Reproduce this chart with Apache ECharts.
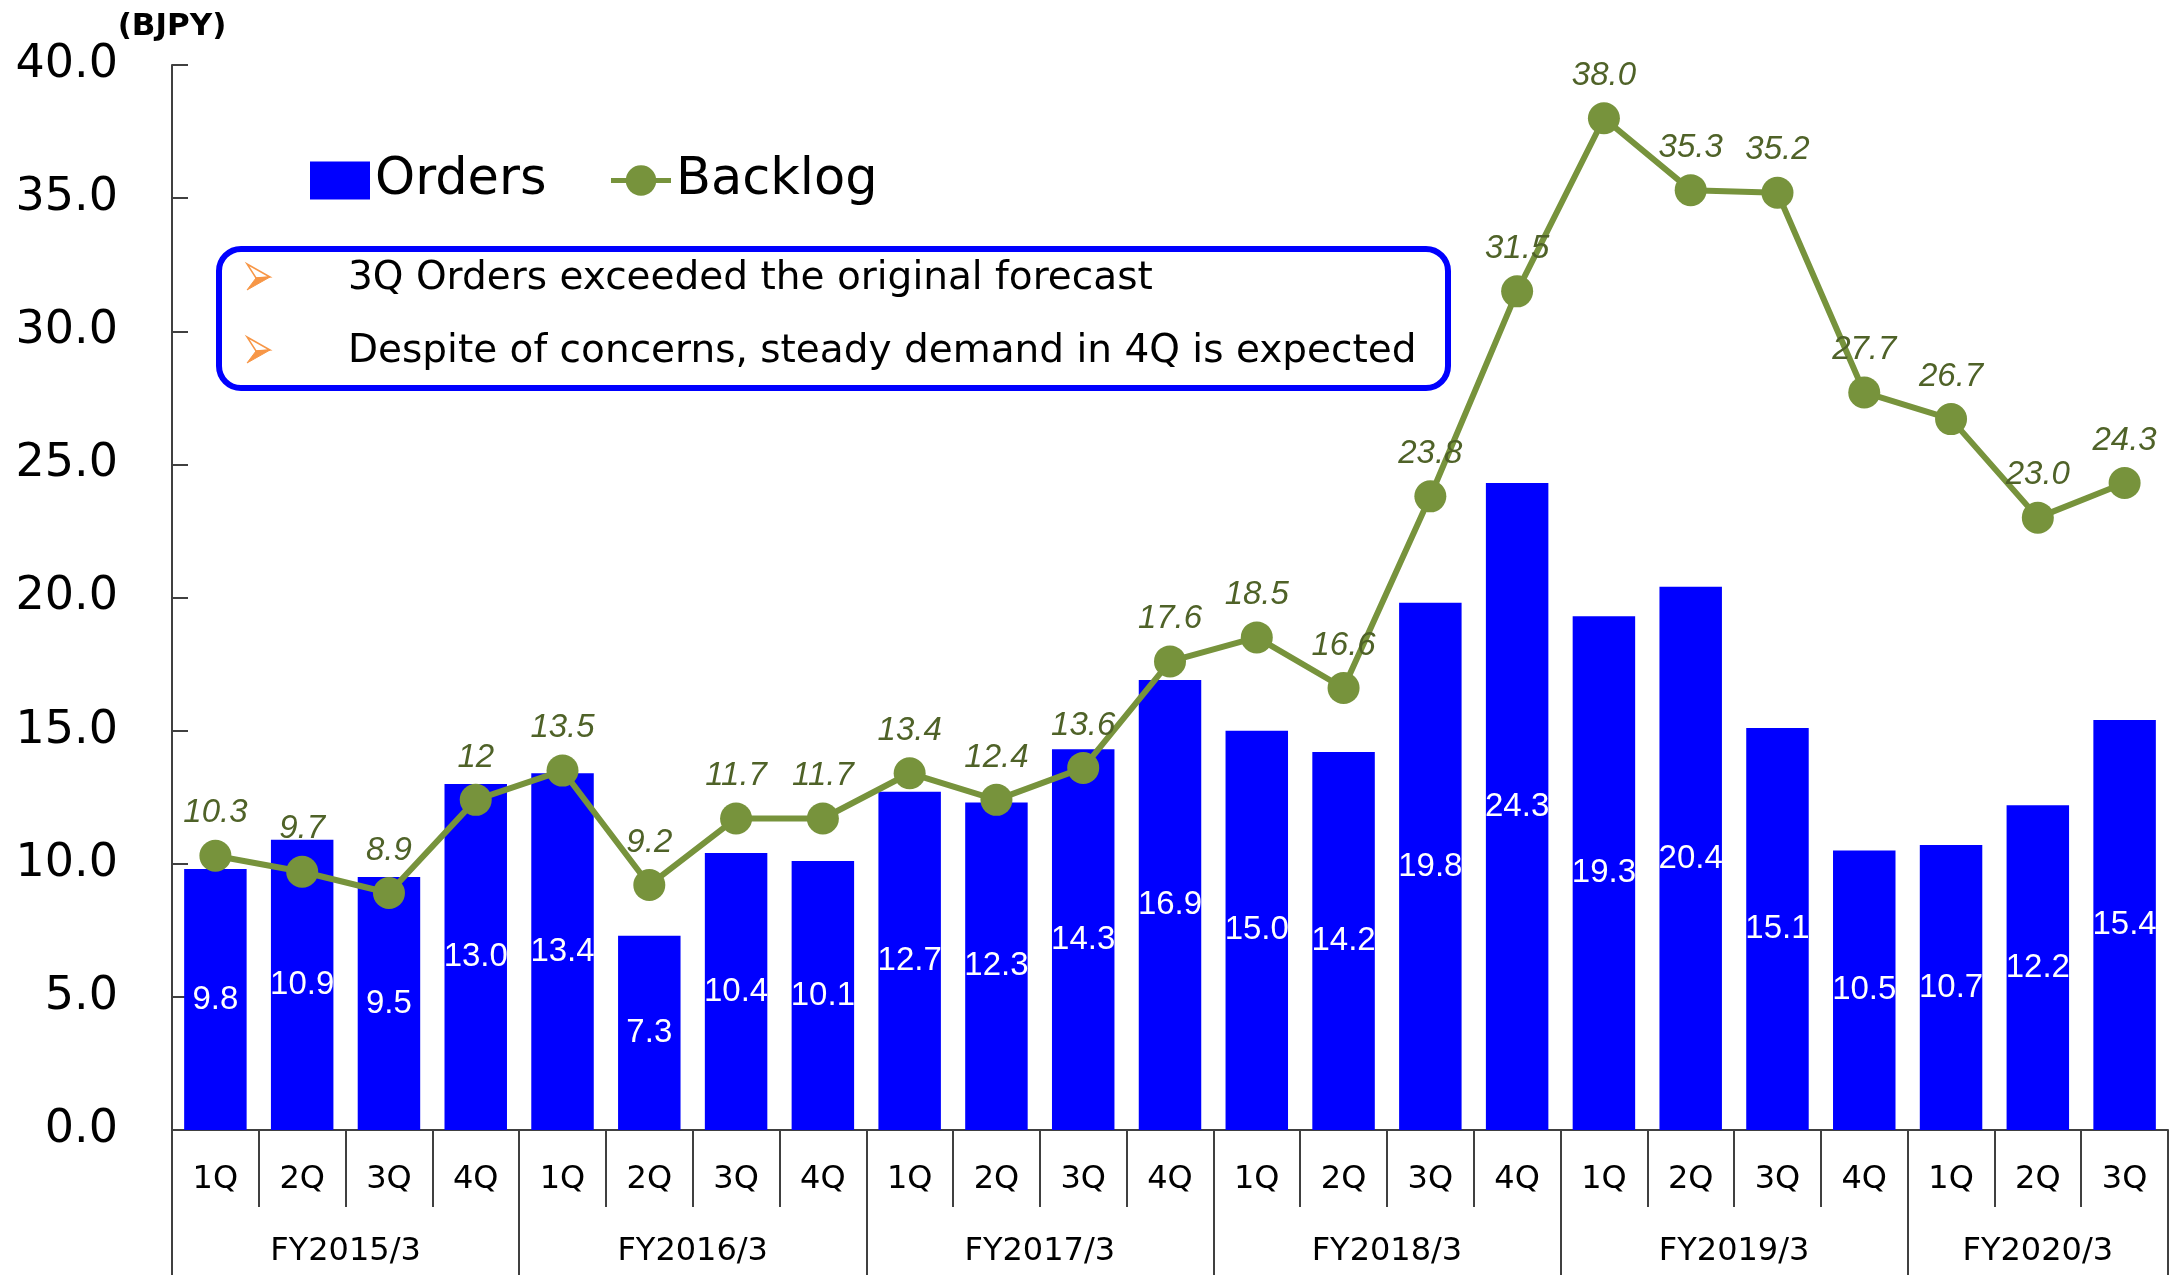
<!DOCTYPE html>
<html>
<head>
<meta charset="utf-8">
<script src="https://cdn.jsdelivr.net/npm/echarts@6/dist/echarts.min.js"></script>
<style>
  html, body { margin: 0; padding: 0; background: #fff; }
  #chart_id { width: 2175px; height: 1275px; }
</style>
</head>
<body>
<div id="chart_id"></div>
<script>
// quarter categories
const quarters = ['1Q', '2Q', '3Q', '4Q', '1Q', '2Q', '3Q', '4Q', '1Q', '2Q', '3Q', '4Q',
  '1Q', '2Q', '3Q', '4Q', '1Q', '2Q', '3Q', '4Q', '1Q', '2Q', '3Q'];
const years = ['FY2015/3', 'FY2016/3', 'FY2017/3', 'FY2018/3', 'FY2019/3', 'FY2020/3'];
const quartersPerYear = [4, 4, 4, 4, 4, 3];

const orders = [9.8, 10.9, 9.5, 13.0, 13.4, 7.3, 10.4, 10.1, 12.7, 12.3, 14.3, 16.9,
  15.0, 14.2, 19.8, 24.3, 19.3, 20.4, 15.1, 10.5, 10.7, 12.2, 15.4];
const backlog = [10.3, 9.7, 8.9, 12.4, 13.5, 9.2, 11.7, 11.7, 13.4, 12.4, 13.6, 17.6,
  18.5, 16.6, 23.8, 31.5, 38.0, 35.3, 35.2, 27.7, 26.7, 23.0, 24.3];
const backlogLabels = ['10.3', '9.7', '8.9', '12', '13.5', '9.2', '11.7', '11.7', '13.4', '12.4', '13.6', '17.6',
  '18.5', '16.6', '23.8', '31.5', '38.0', '35.3', '35.2', '27.7', '26.7', '23.0', '24.3'];
const yTicks = [0, 5, 10, 15, 20, 25, 30, 35, 40];

const notes = [
  '3Q Orders exceeded the original forecast',
  'Despite of concerns, steady demand in 4Q is expected',
];

// year axis: half-quarter slots so the year names sit in the middle of their group
const halfSlots = [];
const yearBounds = {};
const yearCenters = {};
let pos = 0;
yearBounds[0] = true;
for (let i = 0; i < years.length; i++) {
  yearCenters[pos * 2 + quartersPerYear[i]] = years[i];
  pos += quartersPerYear[i];
  yearBounds[pos * 2] = true;
}
for (let k = 0; k <= quarters.length * 2; k++) {
  halfSlots.push(yearCenters[k] || '');
}

// orange bullet arrowhead (light upper face, solid lower face)
function bullet(x, y) {
  return [
    {
      type: 'polygon',
      x: x,
      y: y,
      z: 12,
      shape: { points: [[0, 0], [23, 13], [9, 14]] },
      style: { fill: '#fff', stroke: '#F79646', lineWidth: 1.5 },
    },
    {
      type: 'polygon',
      x: x,
      y: y,
      z: 12,
      shape: { points: [[9, 14], [23, 13], [0, 26]] },
      style: { fill: '#F79646', stroke: '#F79646', lineWidth: 1 },
    },
  ];
}

const myChart = echarts.init(document.getElementById('chart_id'));
const option = {
  animation: false,
  grid: {
    left: 172,
    right: 7,
    top: 65,
    bottom: 145,
  },
  legend: {
    left: 305,
    top: 150,
    itemWidth: 60,
    itemHeight: 38,
    itemGap: 62,
    textStyle: {
      fontFamily: 'DejaVu Sans',
      fontSize: 51,
      color: '#000',
    },
    data: [
      { name: 'Orders', icon: 'rect' },
      { name: 'Backlog', lineStyle: { width: 5 } },
    ],
  },
  xAxis: [
    {
      type: 'category',
      data: quarters,
      axisLine: { lineStyle: { color: '#404040', width: 2 } },
      axisTick: {
        show: true,
        length: 77,
        interval: 0,
        lineStyle: { color: '#404040', width: 2 },
      },
      axisLabel: {
        interval: 0,
        margin: 34,
        fontFamily: 'DejaVu Sans',
        fontSize: 32,
        color: '#000',
      },
    },
    {
      type: 'category',
      position: 'bottom',
      boundaryGap: false,
      data: halfSlots,
      axisLine: { show: false },
      axisTick: {
        show: true,
        length: 150,
        interval: (index) => !!yearBounds[index],
        lineStyle: { color: '#404040', width: 2 },
      },
      axisLabel: {
        interval: (index) => !!yearCenters[index],
        margin: 106,
        fontFamily: 'DejaVu Sans',
        fontSize: 32,
        color: '#000',
      },
    },
  ],
  yAxis: {
    type: 'value',
    min: yTicks[0],
    max: yTicks[yTicks.length - 1],
    interval: 5,
    name: '(BJPY)',
    nameLocation: 'end',
    nameGap: 22,
    nameTextStyle: {
      fontFamily: 'DejaVu Sans',
      fontWeight: 'bold',
      fontSize: 31,
      color: '#000',
    },
    axisLine: { show: true, lineStyle: { color: '#404040', width: 2 } },
    axisTick: {
      show: true,
      inside: true,
      length: 16,
      lineStyle: { color: '#404040', width: 2 },
    },
    splitLine: { show: false },
    axisLabel: {
      margin: 54,
      fontFamily: 'DejaVu Sans',
      fontSize: 46,
      color: '#000',
      formatter: (value) => value.toFixed(1),
    },
  },
  series: [
    {
      name: 'Orders',
      type: 'bar',
      data: orders,
      barWidth: '72%',
      itemStyle: { color: '#0000FF' },
      label: {
        show: true,
        position: 'inside',
        color: '#fff',
        fontFamily: 'Liberation Sans',
        fontSize: 33,
        formatter: (p) => p.value.toFixed(1),
      },
    },
    {
      name: 'Backlog',
      type: 'line',
      data: backlog,
      symbol: 'circle',
      symbolSize: 32,
      lineStyle: { color: '#77933C', width: 6 },
      itemStyle: { color: '#77933C' },
      label: {
        show: true,
        position: 'top',
        distance: 10,
        color: '#4F6228',
        fontFamily: 'Liberation Sans',
        fontStyle: 'italic',
        fontSize: 33,
        formatter: (p) => backlogLabels[p.dataIndex],
      },
    },
  ],
  graphic: [
    {
      type: 'rect',
      left: 216,
      top: 246,
      shape: { width: 1229, height: 139, r: 22 },
      style: { fill: '#fff', stroke: '#0000FF', lineWidth: 6 },
      z: 10,
    },
    ...bullet(247, 264),
    ...bullet(247, 337),
    {
      type: 'text',
      left: 348,
      top: 259,
      style: { text: notes[0], fill: '#000', fontSize: 39, fontFamily: 'DejaVu Sans' },
      z: 11,
    },
    {
      type: 'text',
      left: 348,
      top: 332,
      style: { text: notes[1], fill: '#000', fontSize: 39, fontFamily: 'DejaVu Sans' },
      z: 11,
    },
  ],
};
myChart.setOption(option);
window.onresize = myChart.resize;
</script>
</body>
</html>
